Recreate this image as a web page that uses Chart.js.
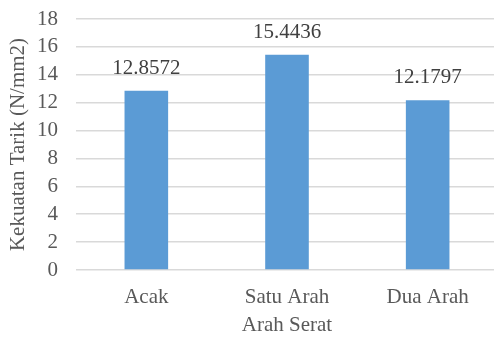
<!DOCTYPE html>
<html>
<head>
<meta charset="utf-8">
<script src="https://cdn.jsdelivr.net/npm/chart.js@4.4.1/dist/chart.umd.min.js"></script>
<style>
  html, body { margin: 0; padding: 0; background: #fff; overflow: hidden; }
  #wrap { width: 498px; height: 338px; }
</style>
</head>
<body>
<div id="wrap"><canvas id="chart"></canvas></div>
<script>
// Kekuatan tarik per arah serat
const categories = ['Acak', 'Satu Arah', 'Dua Arah'];
const kekuatan = [12.8572, 15.4436, 12.1797];
const yTicks = [0, 2, 4, 6, 8, 10, 12, 14, 16, 18];

const serif = '"Liberation Serif", "Times New Roman", serif';
Chart.defaults.font.family = serif;

// tulis nilai di atas tiap batang
const valueLabels = {
    id: 'valueLabels',
    afterDatasetsDraw(chart) {
        const ctx = chart.ctx;
        const meta = chart.getDatasetMeta(0);
        ctx.save();
        ctx.font = '21px ' + serif;
        ctx.fillStyle = '#404040';
        ctx.textAlign = 'center';
        ctx.textBaseline = 'alphabetic';
        meta.data.forEach((bar, i) => {
            ctx.fillText(kekuatan[i].toFixed(4), bar.x, bar.y - 17);
        });
        ctx.restore();
    }
};

const ctx = document.getElementById('chart').getContext('2d');
new Chart(ctx, {
    type: 'bar',
    data: {
        labels: categories,
        datasets: [{
            data: kekuatan,
            backgroundColor: '#5B9BD5',
            categoryPercentage: 1,
            barPercentage: 0.31
        }]
    },
    options: {
        responsive: true,
        maintainAspectRatio: false,
        animation: false,
        layout: { padding: { top: 19, right: 0, left: 0, bottom: 0 } },
        plugins: { legend: { display: false }, tooltip: { enabled: false } },
        scales: {
            x: {
                grid: { display: false, drawTicks: false },
                border: { display: false },
                ticks: { color: '#595959', font: { size: 21 }, padding: 15, autoSkip: false, maxRotation: 0 },
                title: { display: true, text: 'Arah Serat', color: '#595959', font: { size: 21 }, padding: { top: 0, bottom: 0 } },
                afterFit(scale) { scale.height = 68; }
            },
            y: {
                min: 0,
                max: 18,
                afterBuildTicks(scale) { scale.ticks = yTicks.map(v => ({ value: v })); },
                grid: { color: '#D9D9D9', lineWidth: 1.5, drawTicks: false },
                border: { display: false },
                ticks: { color: '#595959', font: { size: 21 }, padding: 18, autoSkip: false },
                title: { display: true, text: 'Kekuatan Tarik (N/mm2)', color: '#595959', font: { size: 21 }, padding: { top: 6, bottom: 0 } },
                afterFit(scale) {
                    scale.width = 76;
                    scale.paddingTop = 0;
                    scale.paddingBottom = 0;
                }
            }
        }
    },
    plugins: [valueLabels]
});
</script>
</body>
</html>
